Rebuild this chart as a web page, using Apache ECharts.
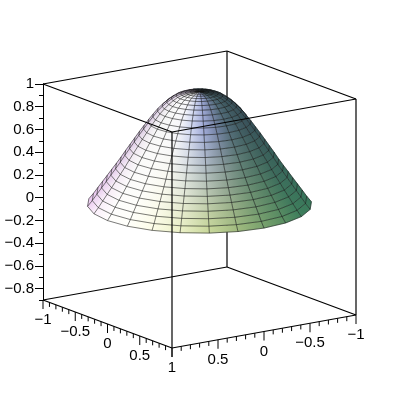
<!DOCTYPE html>
<html lang="en">
<head>
  <meta charset="UTF-8">
  <title>Surface plot</title>
  <script src="https://cdn.jsdelivr.net/npm/echarts@6/dist/echarts.min.js"></script>
  <style>
    html, body { margin: 0; padding: 0; background: #fff; }
    #chart { width: 400px; height: 400px; }
  </style>
</head>
<body>
  <div id="chart"></div>
  <script>
    // surface profile: height at each ring
    const radii = [0, 0.042, 0.083, 0.125, 0.167, 0.208, 0.25, 0.292, 0.333, 0.375, 0.417, 0.458, 0.5,
      0.542, 0.583, 0.625, 0.667, 0.708, 0.75, 0.792, 0.833, 0.875, 0.917, 0.958, 1];
    const heights = [1, 0.999, 0.996, 0.99, 0.98, 0.965, 0.94, 0.91, 0.875, 0.835, 0.785, 0.735, 0.68,
      0.625, 0.568, 0.51, 0.452, 0.392, 0.335, 0.28, 0.225, 0.17, 0.115, 0.06, 0.01];
    const azimuths = [0, 15, 30, 45, 60, 75, 90, 105, 120, 135, 150, 165, 180, 195, 210, 225, 240, 255, 270, 285, 300, 315, 330, 345];

    const zMajor = [-0.8, -0.6, -0.4, -0.2, 0, 0.2, 0.4, 0.6, 0.8, 1];
    const zMinor = [-0.9, -0.7, -0.5, -0.3, -0.1, 0.1, 0.3, 0.5, 0.7, 0.9];
    const baseMajor = [-1, -0.5, 0, 0.5, 1];
    const baseMinor = [-0.9, -0.8, -0.7, -0.6, -0.4, -0.3, -0.2, -0.1, 0.1, 0.2, 0.3, 0.4, 0.6, 0.7, 0.8, 0.9];

    const zMin = -0.9, zMax = 1;

    // surface colour, by azimuth, at the rim and up on the shoulder
    const shadeAngles = [-60, -30, -5, 17, 30, 45, 60, 75, 95, 105, 115, 125];
    const shadeLow = [[55, 120, 90], [62, 128, 92], [108, 155, 102], [168, 192, 128], [202, 217, 152], [236, 241, 197],
      [252, 252, 230], [255, 255, 250], [255, 254, 255], [252, 240, 252], [242, 218, 246], [235, 200, 240]];
    const shadeHigh = [[52, 78, 88], [60, 85, 92], [72, 100, 108], [122, 135, 170], [160, 170, 215], [208, 215, 240],
      [246, 246, 250], [250, 250, 250], [246, 246, 246], [236, 230, 238], [226, 212, 232], [215, 200, 225]];
    const shadeHighZ = 0.75;

    // parallel projection, fitted to the box corners in the picture
    function project(u, v, z) {
      return [199.5 + 64.5 * u - 92 * v, 205.2 + 24 * u + 16.5 * v - 113.7 * z];
    }
    const viewDir = [1.426, 1, 0.446];

    function toRad(d) { return d * Math.PI / 180; }

    function point(i, j) {
      const a = toRad(azimuths[j % azimuths.length]);
      return project(radii[i] * Math.cos(a), radii[i] * Math.sin(a), heights[i]);
    }

    function slope(i) {
      const lo = Math.max(i - 1, 0), hi = Math.min(i + 1, radii.length - 1);
      return (heights[lo] - heights[hi]) / (radii[hi] - radii[lo]);
    }

    function facing(i, j) {
      const a = toRad(azimuths[j % azimuths.length]), s = slope(i);
      return s * Math.cos(a) * viewDir[0] + s * Math.sin(a) * viewDir[1] + viewDir[2];
    }

    function isVisible(i, j) {
      return facing(i, j) + facing(i + 1, j) + facing(i, j + 1) + facing(i + 1, j + 1) > 0;
    }

    function lookup(table, angle) {
      if (angle <= shadeAngles[0]) return table[0];
      const n = shadeAngles.length;
      if (angle >= shadeAngles[n - 1]) return table[n - 1];
      let k = 0;
      while (shadeAngles[k + 1] < angle) k++;
      const t = (angle - shadeAngles[k]) / (shadeAngles[k + 1] - shadeAngles[k]);
      return table[k].map((c, m) => c + (table[k + 1][m] - c) * t);
    }

    function color(i, j) {
      let angle = azimuths[j % azimuths.length];
      if (angle > 180) angle -= 360;
      const z = (heights[i] + heights[i + 1]) / 2;
      const t = Math.min(1, Math.max(0, z / shadeHighZ));
      const low = lookup(shadeLow, angle), high = lookup(shadeHigh, angle);
      const c = low.map((v, m) => Math.round(v + (high[m] - v) * t));
      return 'rgb(' + c.join(',') + ')';
    }

    const quads = [];
    for (let i = 0; i < radii.length - 1; i++) {
      for (let j = 0; j < azimuths.length; j++) {
        if (isVisible(i, j)) quads.push([i, j]);
      }
    }

    function renderQuad(params, api) {
      const i = api.value(0), j = api.value(1);
      const a = api.coord(point(i, j)), b = api.coord(point(i + 1, j));
      const c = api.coord(point(i + 1, j + 1)), d = api.coord(point(i, j + 1));
      const from = [(a[0] + b[0]) / 2, (a[1] + b[1]) / 2], to = [(c[0] + d[0]) / 2, (c[1] + d[1]) / 2];
      const fill = new echarts.graphic.LinearGradient(from[0], from[1], to[0], to[1],
        [{ offset: 0, color: color(i, j) }, { offset: 1, color: color(i, j + 1) }], true);
      return {
        type: 'polygon',
        shape: { points: [a, b, c, d] },
        style: { fill: fill, stroke: color(i, j), lineWidth: 0.4 },
        silent: true
      };
    }

    function renderMesh(params, api) {
      const i = api.value(0), j = api.value(1);
      const a = api.coord(point(i, j)), b = api.coord(point(i + 1, j));
      const c = api.coord(point(i + 1, j + 1)), d = api.coord(point(i, j + 1));
      // the far meridian is only drawn on the silhouette, where no neighbour will draw it
      const pts = isVisible(i, (j + 1) % azimuths.length) ? [a, b, c] : [a, b, c, d];
      return {
        type: 'polyline',
        shape: { points: pts },
        style: { fill: 'none', stroke: 'rgba(20,20,20,0.56)', lineWidth: 1 },
        silent: true
      };
    }

    // box edges, as pairs of [u, v, z] corners
    const backEdges = [
      [[-1, 1, zMax], [-1, -1, zMax]], [[-1, -1, zMax], [1, -1, zMax]],
      [[-1, -1, zMin], [-1, -1, zMax]],
      [[-1, 1, zMin], [-1, -1, zMin]], [[-1, -1, zMin], [1, -1, zMin]]
    ];
    const frontEdges = [
      [[-1, 1, zMax], [1, 1, zMax]], [[1, 1, zMax], [1, -1, zMax]],
      [[1, 1, zMin], [1, 1, zMax]], [[1, -1, zMin], [1, -1, zMax]],
      [[-1, 1, zMin], [1, 1, zMin]], [[1, 1, zMin], [1, -1, zMin]]
    ];

    function renderEdge(edges) {
      return function (params, api) {
        const e = edges[params.dataIndex];
        const p = api.coord(project(e[0][0], e[0][1], e[0][2]));
        const q = api.coord(project(e[1][0], e[1][1], e[1][2]));
        return {
          type: 'line',
          shape: { x1: p[0], y1: p[1], x2: q[0], y2: q[1] },
          style: { stroke: '#000', lineWidth: 1.2 },
          silent: true
        };
      };
    }

    // slanted base axes: ticks point straight down, labels sit 20px under the axis
    const baseTicks = [];
    baseMajor.forEach(t => { baseTicks.push([t, 1, 9]); baseTicks.push([1, t, 9]); });
    baseMinor.forEach(t => { baseTicks.push([t, 1, 4.5]); baseTicks.push([1, t, 4.5]); });

    function renderTick(params, api) {
      const p = api.coord(project(api.value(0), api.value(1), zMin));
      return {
        type: 'line',
        shape: { x1: p[0], y1: p[1], x2: p[0], y2: p[1] + api.value(2) },
        style: { stroke: '#000', lineWidth: 1 },
        silent: true
      };
    }

    const baseLabels = [];
    baseMajor.forEach(t => baseLabels.push([t, 1]));
    baseMajor.forEach(t => { if (t !== 1) baseLabels.push([1, t]); });

    function label(t) { return String(t).replace('-', '\u2212'); }

    function renderBaseLabel(params, api) {
      const u = api.value(0), v = api.value(1);
      const p = api.coord(project(u, v, zMin));
      return {
        type: 'text',
        x: p[0], y: p[1] + 20,
        style: {
          text: label(v === 1 ? u : v), fill: '#000',
          font: '15px "Liberation Sans"', align: 'center', verticalAlign: 'middle'
        },
        silent: true
      };
    }

    const pixelSeries = { type: 'custom', xAxisIndex: 1, yAxisIndex: 2, clip: false, animation: false };

    const option = {
      animation: false,
      backgroundColor: '#fff',
      grid: [
        { left: 43, top: 84, width: 313, height: 216 },
        { left: 0, top: 0, width: 400, height: 400 }
      ],
      xAxis: [
        { gridIndex: 0, type: 'value', show: false },
        { gridIndex: 1, type: 'value', min: 0, max: 400, show: false }
      ],
      yAxis: [
        {
          gridIndex: 0, type: 'value', min: zMin, max: zMax, position: 'left',
          axisLine: { show: true, onZero: false, lineStyle: { color: '#000', width: 1 } },
          axisTick: { show: true, length: 8, customValues: zMajor, lineStyle: { color: '#000' } },
          axisLabel: {
            show: true, customValues: zMajor, margin: 9, color: '#000',
            fontFamily: 'Liberation Sans', fontSize: 15, formatter: label
          },
          splitLine: { show: false }
        },
        {
          gridIndex: 0, type: 'value', min: zMin, max: zMax, position: 'left',
          axisLine: { show: false },
          axisTick: { show: true, length: 4, customValues: zMinor, lineStyle: { color: '#000' } },
          axisLabel: { show: false },
          splitLine: { show: false }
        },
        { gridIndex: 1, type: 'value', min: 0, max: 400, inverse: true, show: false }
      ],
      series: [
        { type: 'scatter', xAxisIndex: 0, yAxisIndex: 0, data: [], silent: true },
        { type: 'scatter', xAxisIndex: 0, yAxisIndex: 1, data: [], silent: true },
        Object.assign({}, pixelSeries, { z: 1, data: backEdges.map((e, k) => [k]), renderItem: renderEdge(backEdges) }),
        Object.assign({}, pixelSeries, { z: 2, data: quads, renderItem: renderQuad }),
        Object.assign({}, pixelSeries, { z: 3, data: quads, renderItem: renderMesh }),
        Object.assign({}, pixelSeries, { z: 4, data: frontEdges.map((e, k) => [k]), renderItem: renderEdge(frontEdges) }),
        Object.assign({}, pixelSeries, { z: 4, data: baseTicks, renderItem: renderTick }),
        Object.assign({}, pixelSeries, { z: 4, data: baseLabels, renderItem: renderBaseLabel })
      ]
    };

    const myChart = echarts.init(document.getElementById('chart'));
    myChart.setOption(option);
  </script>
</body>
</html>
